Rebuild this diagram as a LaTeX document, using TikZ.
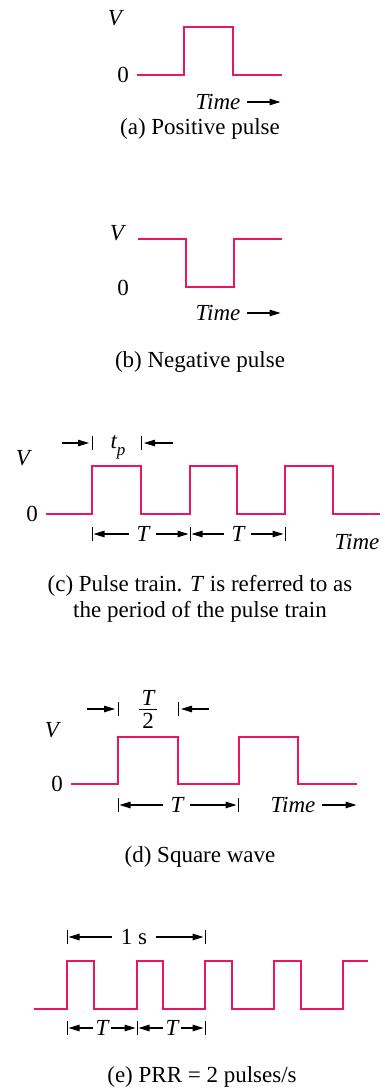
\documentclass[tikz,border=0pt]{standalone}
\usepackage{fontspec}
\setmainfont{Liberation Serif}
\usetikzlibrary{arrows.meta}
\definecolor{pulsecol}{RGB}{236,22,92}
\begin{document}
\begin{tikzpicture}[x=1pt,y=-1pt,
  wave/.style={draw=pulsecol, line width=2.9pt, line join=miter},
  dim/.style={line width=1.1pt, -{Triangle[length=11pt,width=6.5pt]}, shorten >=1.5pt},
  tickln/.style={line width=1pt},
  lbl/.style={font=\fontsize{23}{27}\selectfont, inner sep=0pt},
  ilbl/.style={font=\fontsize{23}{27}\selectfont\itshape, inner sep=0pt},
]
\useasboundingbox (0,0) rectangle (385,1091);

% ---------- (a) ----------
\node[ilbl] (Va) at (115,18) {V};
\node[lbl] (Za) at (123,75) {0};
\draw[wave] (137,75) -- (184,75) -- (184,27) -- (233,27) -- (233,75) -- (282,75);
\node[ilbl] (timeA) at (218,102) {Time};
\coordinate (timeAend) at (282,102);
\draw[dim] ([xshift=6pt]timeA.east) -- (timeAend);
\node[lbl] (capA) at (200,129) {(a) Positive pulse};

% ---------- (b) ----------
\node[ilbl] (Vb) at (117,233) {V};
\node[lbl] (Zb) at (123,288) {0};
\draw[wave] (138,239) -- (186,239) -- (186,287) -- (234,287) -- (234,239) -- (282,239);
\node[ilbl] (timeB) at (218,313) {Time};
\coordinate (timeBend) at (282,313);
\draw[dim] ([xshift=6pt]timeB.east) -- (timeBend);
\node[lbl] (capB) at (200,362) {(b) Negative pulse};

% ---------- (c) ----------
\coordinate (tpL) at (92,443);
\coordinate (tpR) at (141,443);
\coordinate (tpLs) at (62,443);
\coordinate (tpRs) at (173,443);
\draw[tickln] (92,436) -- (92,450);
\draw[tickln] (141,436) -- (141,450);
\draw[dim, shorten >=3pt] (tpLs) -- (tpL);
\draw[dim, shorten >=3pt] (tpRs) -- (tpR);
\node[ilbl] (tp) at (118,447) {t\raisebox{-0.3em}{\fontsize{17}{19}\selectfont p}};
\node[ilbl] (Vc) at (23,458) {V};
\node[lbl] (Zc) at (32,514) {0};
\draw[wave] (46,514) -- (92,514) -- (92,466) -- (141,466) -- (141,514) -- (190,514)
  -- (190,466) -- (237,466) -- (237,514) -- (285,514) -- (285,466) -- (333,466)
  -- (333,514) -- (380,514);
\draw[tickln] (92,527) -- (92,541);
\draw[tickln] (190,527) -- (190,541);
\draw[tickln] (285,527) -- (285,541);
\node[ilbl] (Tc1) at (143,534) {T};
\node[ilbl] (Tc2) at (238,534) {T};
\coordinate (c0) at (92,534);
\coordinate (c1) at (190,534);
\coordinate (c2) at (285,534);
\draw[dim] ([xshift=-7pt]Tc1.west) -- (c0);
\draw[dim] ([xshift=6pt]Tc1.east) -- (c1);
\draw[dim] ([xshift=-7pt]Tc2.west) -- (c1);
\draw[dim] ([xshift=6pt]Tc2.east) -- (c2);
\node[ilbl] (timeC) at (357,542) {Time};
\node[lbl, align=center, font=\fontsize{23}{26}\selectfont] (capC) at (200,599)
  {(c) Pulse train. \textit{T} is referred to as\\the period of the pulse train};

% ---------- (d) ----------
\coordinate (hL) at (118,709);
\coordinate (hR) at (178,709);
\coordinate (hLs) at (87,709);
\coordinate (hRs) at (209,709);
\draw[tickln] (118,702) -- (118,716);
\draw[tickln] (178,702) -- (178,716);
\draw[dim, shorten >=3pt] (hLs) -- (hL);
\draw[dim, shorten >=3pt] (hRs) -- (hR);
\node[ilbl] (hT) at (148,698) {T};
\node[lbl] (h2) at (148,721) {2};
\draw[line width=0.9pt] (139,709) -- (157,709);
\node[ilbl] (Vd) at (52,730) {V};
\node[lbl] (Zd) at (57,784) {0};
\draw[wave] (71,784) -- (118,784) -- (118,737) -- (178,737) -- (178,784) -- (239,784)
  -- (239,737) -- (298,737) -- (298,784) -- (357,784);
\draw[tickln] (118,798) -- (118,812);
\draw[tickln] (238,798) -- (238,812);
\node[ilbl] (Td) at (177,805) {T};
\coordinate (d0) at (118,805);
\coordinate (d1) at (238,805);
\draw[dim] ([xshift=-7pt]Td.west) -- (d0);
\draw[dim] ([xshift=6pt]Td.east) -- (d1);
\node[ilbl] (timeD) at (293,805) {Time};
\coordinate (timeDend) at (358,805);
\draw[dim] ([xshift=6pt]timeD.east) -- (timeDend);
\node[lbl] (capD) at (200,857) {(d) Square wave};

% ---------- (e) ----------
\draw[tickln] (67,930) -- (67,944);
\draw[tickln] (205,930) -- (205,944);
\node[lbl] (oneS) at (134,937) {1 s};
\coordinate (e0) at (67,937);
\coordinate (e1) at (205,937);
\draw[dim] ([xshift=-9pt]oneS.west) -- (e0);
\draw[dim] ([xshift=9pt]oneS.east) -- (e1);
\draw[wave] (34,1009) -- (67,1009) -- (67,961) -- (94,961) -- (94,1009) -- (137,1009)
  -- (137,961) -- (163,961) -- (163,1009) -- (205,1009) -- (205,961) -- (232,961)
  -- (232,1009) -- (274,1009) -- (274,961) -- (301,961) -- (301,1009) -- (343,1009)
  -- (343,961) -- (368,961);
\draw[tickln] (67,1021) -- (67,1035);
\draw[tickln] (137,1021) -- (137,1035);
\draw[tickln] (205,1021) -- (205,1035);
\node[ilbl] (Te1) at (102,1028) {T};
\node[ilbl] (Te2) at (172,1028) {T};
\coordinate (f0) at (67,1028);
\coordinate (f1) at (137,1028);
\coordinate (f2) at (205,1028);
\draw[dim] ([xshift=-2pt]Te1.west) -- (f0);
\draw[dim] ([xshift=2pt]Te1.east) -- (f1);
\draw[dim] ([xshift=-2pt]Te2.west) -- (f1);
\draw[dim] ([xshift=2pt]Te2.east) -- (f2);
\node[lbl] (capE) at (202,1077) {(e) PRR = 2 pulses/s};
\end{tikzpicture}
\end{document}
